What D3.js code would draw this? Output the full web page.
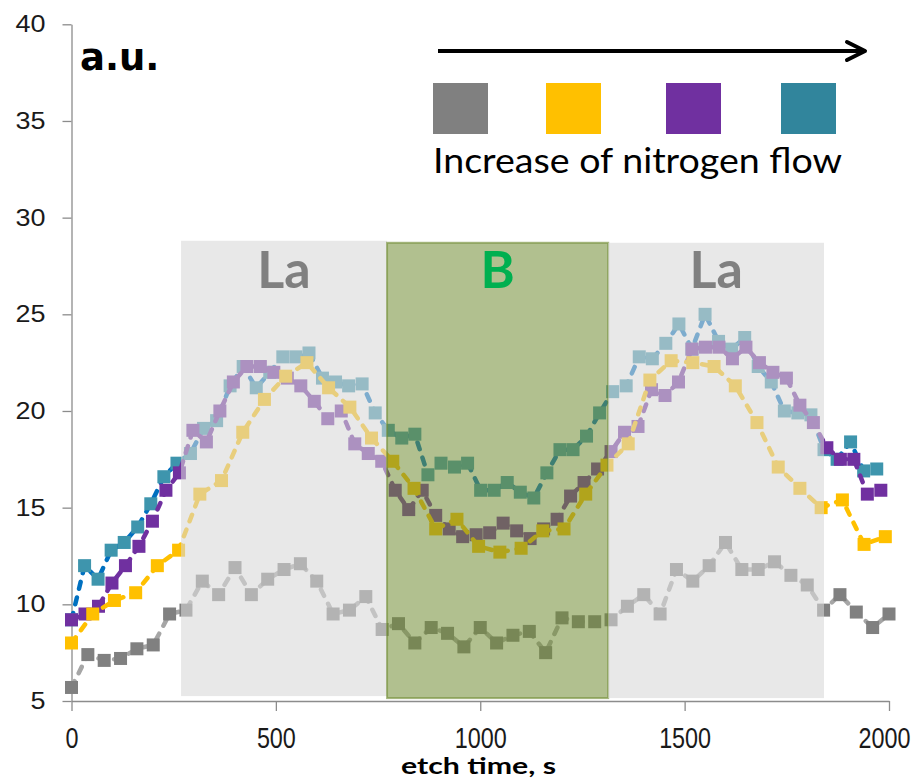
<!DOCTYPE html>
<html>
<head>
<meta charset="utf-8">
<script src="https://cdn.jsdelivr.net/npm/d3@7"></script>
<style>
  body { margin: 0; background: #fff; }
  svg { display: block; }
</style>
</head>
<body>
<div id="chart-area"></div>
<script>
// ---- data ----
var grayTime = [0,40,80,120,160,200,240,280,320,360,400,440,480,520,560,600,640,680,720,760,800,840,880,920,960,1000,1040,1080,1120,1160,1200,1240,1280,1320,1360,1400,1440,1480,1520,1560,1600,1640,1680,1720,1760,1800,1840,1880,1920,1960,2000];
var grayVal = [5.7,7.4,7.1,7.2,7.7,7.9,9.5,9.7,11.2,10.5,11.9,10.5,11.3,11.8,12.1,11.2,9.5,9.7,10.4,8.7,9.0,8.0,8.8,8.5,7.8,8.8,8.0,8.4,8.6,7.5,9.3,9.1,9.1,9.2,9.9,10.5,9.5,11.8,11.2,12.0,13.2,11.8,11.8,12.2,11.5,11.0,9.7,10.5,9.6,8.8,9.5];

var yellowTime = [0,52,105,157,210,262,314,367,419,472,524,576,629,681,734,786,838,891,943,996,1048,1100,1153,1205,1258,1310,1362,1415,1467,1520,1572,1624,1677,1729,1782,1834,1886,1939,1991];
var yellowVal = [8.0,9.5,10.2,10.6,12.0,12.8,15.7,16.4,18.9,20.6,21.8,22.5,21.2,20.2,18.6,17.4,16.0,13.9,14.4,13.0,12.7,12.9,13.8,13.9,15.7,17.2,18.3,21.6,22.6,22.5,22.3,21.3,19.4,17.1,16.0,15.0,15.4,13.1,13.5];

var purpleTime = [0,33,66,99,132,165,198,231,264,297,330,363,396,429,462,495,528,561,594,627,660,693,726,759,792,825,858,891,924,957,990,1023,1056,1089,1122,1155,1188,1221,1254,1287,1320,1353,1386,1419,1452,1485,1518,1551,1584,1617,1650,1683,1716,1749,1782,1815,1848,1881,1914,1947,1980];
var purpleVal = [9.2,9.5,9.9,11.1,12.0,13.0,14.3,15.9,16.8,19.0,18.4,20.0,21.5,22.3,22.3,22.0,21.7,21.3,20.5,19.6,20.0,18.3,17.8,17.4,15.9,14.9,15.9,14.6,13.9,13.5,13.6,13.7,14.2,13.8,13.4,13.9,14.4,15.6,16.3,17.0,17.9,18.9,19.2,21.1,20.8,21.5,23.2,23.3,23.3,22.7,23.3,22.5,22.0,21.7,20.3,19.4,18.1,17.5,17.5,15.7,15.9];

var tealTime = [0,32,65,97,129,162,194,226,258,291,323,355,388,420,452,485,517,549,581,614,646,678,711,743,775,808,840,872,904,937,969,1001,1034,1066,1098,1131,1163,1195,1227,1260,1292,1324,1357,1389,1421,1454,1486,1518,1550,1583,1615,1647,1680,1712,1744,1777,1809,1841,1873,1906,1938,1970];
var tealVal = [9.2,12.0,11.3,12.8,13.2,14.0,15.2,16.6,17.3,17.8,19.1,19.5,21.3,22.3,21.2,22.0,22.8,22.8,23.0,21.7,21.5,21.3,21.4,19.9,19.0,18.6,18.8,16.7,17.3,17.1,17.3,15.9,15.9,16.3,15.8,15.5,16.8,18.0,18.0,18.7,19.9,21.0,21.3,22.8,22.7,23.5,24.5,23.2,25.0,23.6,23.2,23.8,22.3,21.5,20.0,19.9,19.8,18.0,17.5,18.4,16.9,17.0];

// shaded etch zones
var zoneLabel = ["La", "B", "La"];
var zoneStart = [268, 772, 1313];
var zoneEnd = [772, 1313, 1841];
var zoneTop = 28.7;

var xTicks = [0, 500, 1000, 1500, 2000];
var yTicks = [5, 10, 15, 20, 25, 30, 35, 40];
var legendLabel = "Increase of nitrogen flow";

// ---- svg ----
var svg = d3.select("#chart-area").append("svg")
    .attr("width", 921)
    .attr("height", 780);

var x = d3.scaleLinear().domain([0, 2000]).range([71.5, 889]);
var y = d3.scaleLinear().domain([5, 40]).range([701, 24.3]);

// axes
var yAxis = svg.append("g")
    .attr("transform", "translate(" + x(0) + ",0)")
    .call(d3.axisLeft(y).tickValues(yTicks).tickSize(9).tickSizeOuter(0).tickPadding(17));
yAxis.selectAll(".tick text")
    .attr("font-size", "23px")
    .attr("textLength", function(d) { return String(d).length * 15; })
    .attr("lengthAdjust", "spacingAndGlyphs");

var xAxis = svg.append("g")
    .attr("transform", "translate(0," + y(5) + ")")
    .call(d3.axisBottom(x).tickValues(xTicks).tickFormat(d3.format("d"))
        .tickSize(10).tickSizeOuter(0).tickPadding(16));
xAxis.selectAll(".tick text")
    .attr("font-size", "29px")
    .attr("textLength", function(d) { return String(d).length * 13; })
    .attr("lengthAdjust", "spacingAndGlyphs")
    .attr("dx", function(d) { return d == 2000 ? -5 : 0; });

svg.selectAll(".domain, .tick line").attr("stroke", "#8c8c8c").attr("stroke-width", 1.3);
svg.selectAll(".tick text")
    .attr("font-family", "'Liberation Sans', Arial, sans-serif")
    .attr("fill", "#1a1a1a");

// series (bottom to top)
var series = [
    { time: tealTime, val: tealVal, line: "#0070C0", mark: "#3E95AD" },
    { time: purpleTime, val: purpleVal, line: "#7030A0", mark: "#7030A0" },
    { time: yellowTime, val: yellowVal, line: "#FFC000", mark: "#FFC000" },
    { time: grayTime, val: grayVal, line: "#A6A6A6", mark: "#808080" }
];

var line = d3.line()
    .x(function(d) { return x(d[0]); })
    .y(function(d) { return y(d[1]); });

var ms = 13;
series.forEach(function(s) {
    var pts = s.time.map(function(t, i) { return [t, s.val[i]]; });
    var g = svg.append("g");
    g.append("path")
        .datum(pts)
        .attr("d", line)
        .attr("fill", "none")
        .attr("stroke", s.line)
        .attr("stroke-width", 4.5)
        .attr("stroke-linecap", "round")
        .attr("stroke-dasharray", "7,9");
    g.selectAll("rect")
        .data(pts)
        .enter().append("rect")
        .attr("x", function(d) { return x(d[0]) - ms / 2; })
        .attr("y", function(d) { return y(d[1]) - ms / 2; })
        .attr("width", ms)
        .attr("height", ms)
        .attr("fill", s.mark);
});

// shaded zones on top of the data
var zoneFill = ["rgb(216,216,216)", "rgb(113,140,51)", "rgb(216,216,216)"];
var zoneOpacity = [0.58, 0.55, 0.58];
zoneLabel.forEach(function(lab, i) {
    svg.append("rect")
        .attr("x", x(zoneStart[i]))
        .attr("y", y(zoneTop) + (i == 0 ? -2 : 0))
        .attr("width", x(zoneEnd[i]) - x(zoneStart[i]))
        .attr("height", y(5.15) - y(zoneTop))
        .attr("fill", zoneFill[i])
        .attr("fill-opacity", zoneOpacity[i])
        .attr("stroke", lab == "B" ? "rgb(113,140,51)" : "none")
        .attr("stroke-opacity", 0.62)
        .attr("stroke-width", 2);
});
zoneLabel.forEach(function(lab, i) {
    svg.append("text")
        .attr("x", x((zoneStart[i] + zoneEnd[i]) / 2))
        .attr("y", 288)
        .attr("text-anchor", "middle")
        .attr("font-family", "Lato, 'Open Sans', sans-serif")
        .attr("font-weight", "bold")
        .attr("font-size", "52px")
        .attr("fill", lab == "B" ? "#00B050" : "#808080")
        .text(lab);
});

// axis titles
svg.append("text")
    .attr("x", 80).attr("y", 70)
    .attr("font-family", "'DejaVu Sans', sans-serif")
    .attr("font-weight", "bold")
    .attr("font-size", "37px")
    .attr("fill", "#000")
    .text("a.u.");

svg.append("text")
    .attr("x", 401).attr("y", 774)
    .attr("font-family", "Lato, sans-serif")
    .attr("font-weight", "bold")
    .attr("font-size", "23px")
    .attr("textLength", 155)
    .attr("lengthAdjust", "spacingAndGlyphs")
    .attr("fill", "#000")
    .text("etch time, s");

// legend: arrow, colour swatches, caption
svg.append("line")
    .attr("x1", 438).attr("x2", 864)
    .attr("y1", 51).attr("y2", 51)
    .attr("stroke", "#000").attr("stroke-width", 4);
svg.append("path")
    .attr("d", "M847,42 L865,51 L847,60")
    .attr("fill", "none")
    .attr("stroke", "#000").attr("stroke-width", 4)
    .attr("stroke-linecap", "round").attr("stroke-linejoin", "round");

var swatchColor = ["#808080", "#FFC000", "#7030A0", "#31859C"];
var swatchX = [433, 546, 666, 781];
swatchColor.forEach(function(c, i) {
    svg.append("rect")
        .attr("x", swatchX[i]).attr("y", 83)
        .attr("width", 55).attr("height", 51)
        .attr("fill", c);
});

svg.append("text")
    .attr("x", 433).attr("y", 173)
    .attr("font-family", "Lato, sans-serif")
    .attr("font-size", "35px")
    .attr("textLength", 409)
    .attr("lengthAdjust", "spacingAndGlyphs")
    .attr("fill", "#000")
    .text(legendLabel);
</script>
</body>
</html>
